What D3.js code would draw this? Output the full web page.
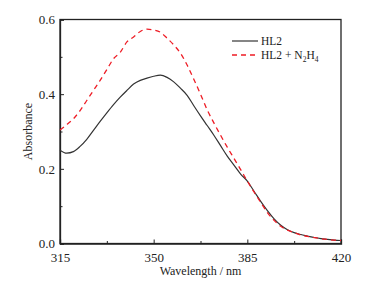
<!DOCTYPE html>
<html><head><meta charset="utf-8">
<script src="https://cdn.jsdelivr.net/npm/d3@7"></script>
<style>body{margin:0;background:#fff}svg{display:block}text{font-family:"Liberation Serif","DejaVu Serif",serif;fill:#222}</style>
</head><body><svg id="c" width="384" height="285"></svg>
<script>
const wavelengths = [315,317.5,320,322.5,325,327.5,330,332.5,335,337.5,340,342.5,345,347.5,350,352.5,355,357.5,360,362.5,365,367.5,370,372.5,375,377.5,380,382.5,385,387.5,390,392.5,395,397.5,400,402.5,405,407.5,410,412.5,415,417.5,420];
const hl2 = [0.250,0.242,0.246,0.260,0.279,0.303,0.327,0.350,0.372,0.392,0.410,0.427,0.437,0.443,0.448,0.451,0.445,0.433,0.416,0.397,0.369,0.342,0.316,0.290,0.262,0.234,0.210,0.186,0.167,0.140,0.113,0.088,0.066,0.049,0.037,0.029,0.024,0.020,0.016,0.013,0.011,0.009,0.008];
const hl2N2H4 = [0.304,0.318,0.334,0.356,0.383,0.410,0.437,0.466,0.495,0.512,0.540,0.553,0.568,0.574,0.572,0.566,0.550,0.532,0.510,0.478,0.440,0.400,0.358,0.323,0.290,0.258,0.228,0.198,0.167,0.138,0.110,0.083,0.062,0.046,0.036,0.029,0.023,0.019,0.016,0.013,0.011,0.009,0.008];
const xTicks = [315,350,385,420];
const xMinor = [332.5,367.5,402.5];
const yTicks = [0,0.2,0.4,0.6];
const yMinor = [0.1,0.3,0.5];

const L=60,R=341,T=19.5,B=243.5;
const svg=d3.select("#c");
const x=d3.scaleLinear().domain([315,420]).range([L,R]);
const y=d3.scaleLinear().domain([0,0.6]).range([B,T]);

svg.append("rect").attr("x",L).attr("y",T).attr("width",R-L).attr("height",B-T).attr("fill","none").attr("stroke","#222").attr("stroke-width",1.3);

const xa=svg.append("g").attr("transform",`translate(0,${B})`).call(d3.axisBottom(x).tickValues(xTicks).tickSize(-4).tickPadding(9).tickFormat(d3.format("d")));
const ya=svg.append("g").attr("transform",`translate(${L},0)`).call(d3.axisLeft(y).tickValues(yTicks).tickSize(-4).tickPadding(5).tickFormat(d3.format(".1f")));
[xa,ya].forEach(g=>{g.select(".domain").attr("stroke","#222").attr("stroke-width",1.3);g.selectAll("line").attr("stroke","#222");g.selectAll("text").attr("font-size",13).attr("font-family","Liberation Serif").attr("fill","#222");});
svg.append("g").attr("transform",`translate(0,${B})`).call(d3.axisBottom(x).tickValues(xMinor).tickSize(-2.5).tickFormat("")).call(g=>{g.select(".domain").remove();g.selectAll("line").attr("stroke","#222");});
svg.append("g").attr("transform",`translate(${L},0)`).call(d3.axisLeft(y).tickValues(yMinor).tickSize(-2.5).tickFormat("")).call(g=>{g.select(".domain").remove();g.selectAll("line").attr("stroke","#222");});

const line=d3.line().x((d,i)=>x(wavelengths[i])).y(d=>y(d)).curve(d3.curveMonotoneX);
svg.append("path").datum(hl2).attr("d",line).attr("fill","none").attr("stroke","#333").attr("stroke-width",1.2);
svg.append("path").datum(hl2N2H4).attr("d",line).attr("fill","none").attr("stroke","#ee1c25").attr("stroke-width",1.3).attr("stroke-dasharray","5,4");

svg.append("text").attr("x",(L+R)/2).attr("y",275).attr("text-anchor","middle").attr("font-size",12).text("Wavelength / nm");
svg.append("text").attr("transform",`translate(32,${(T+B)/2}) rotate(-90)`).attr("text-anchor","middle").attr("font-size",12).text("Absorbance");

const lg=svg.append("g");
lg.append("line").attr("x1",232).attr("x2",258).attr("y1",41).attr("y2",41).attr("stroke","#333").attr("stroke-width",1.2);
lg.append("text").attr("x",261).attr("y",45).attr("font-size",11.5).text("HL2");
lg.append("line").attr("x1",232).attr("x2",258).attr("y1",55).attr("y2",55).attr("stroke","#ee1c25").attr("stroke-width",1.3).attr("stroke-dasharray","5,4");
const t2=lg.append("text").attr("x",261).attr("y",59).attr("font-size",11.5);
t2.append("tspan").text("HL2 + N");
t2.append("tspan").attr("font-size",7.5).attr("dy",2.5).text("2");
t2.append("tspan").attr("dy",-2.5).text("H");
t2.append("tspan").attr("font-size",7.5).attr("dy",2.5).text("4");
</script></body></html>
